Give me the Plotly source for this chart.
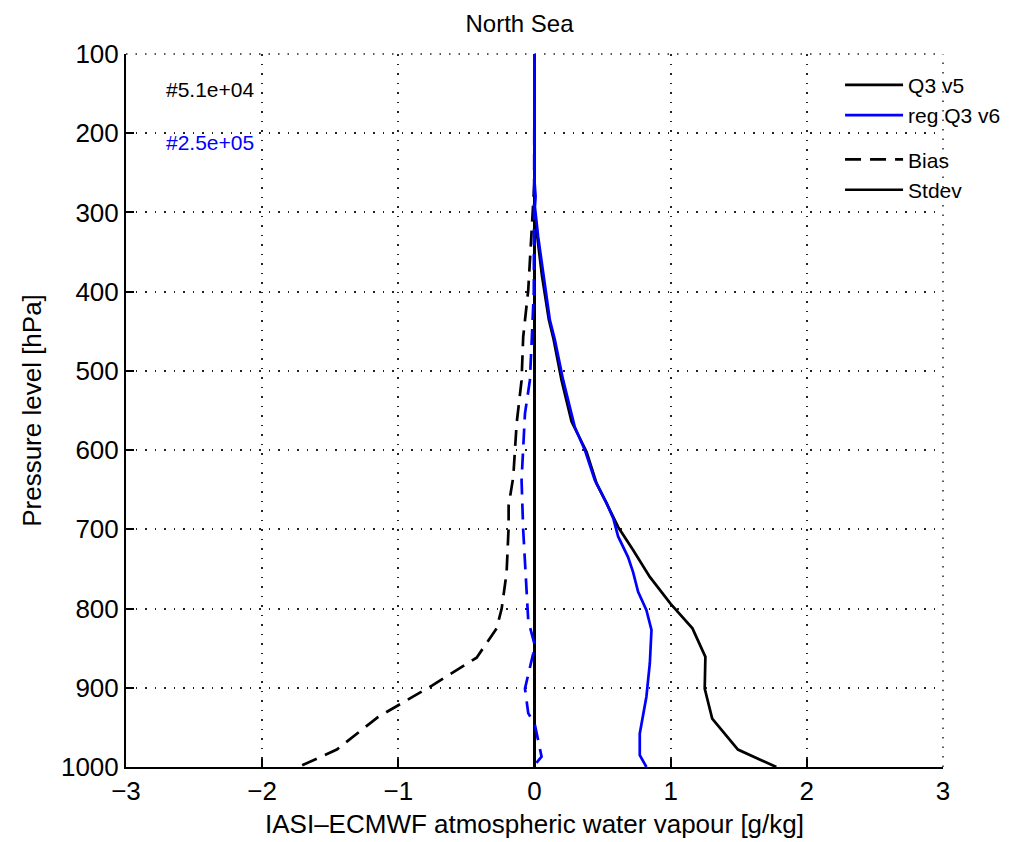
import plotly.graph_objects as go

# ---- data ----
p_std_v5 = [100, 150, 200, 250, 270, 290, 300, 330, 380, 435, 460, 512, 564, 602, 642, 667, 697, 726, 760, 794, 825, 861, 901, 939, 978, 1000]
x_std_v5 = [0.0, 0.0, 0.0, 0.0, 0.0, 0.005, 0.0, 0.02, 0.055, 0.105, 0.14, 0.199, 0.272, 0.382, 0.456, 0.529, 0.614, 0.724, 0.847, 1.0, 1.16, 1.255, 1.25, 1.305, 1.494, 1.776]

p_std_v6 = [100, 150, 200, 230, 260, 280, 293, 331, 377, 436, 461, 512, 571, 600, 638, 667, 686, 709, 735, 754, 779, 802, 827, 869, 911, 958, 985, 1000]
x_std_v6 = [0.0, 0.0, 0.0, 0.002, 0.0, 0.008, 0.003, 0.027, 0.064, 0.113, 0.15, 0.211, 0.296, 0.37, 0.443, 0.529, 0.578, 0.614, 0.687, 0.724, 0.761, 0.822, 0.859, 0.847, 0.822, 0.773, 0.773, 0.822]

p_bias_v5 = [260, 276, 335, 398, 457, 512, 566, 634, 670, 697, 755, 800, 825, 862, 897, 937, 978, 1000]
x_bias_v5 = [0.0, -0.005, -0.021, -0.046, -0.083, -0.095, -0.131, -0.156, -0.19, -0.19, -0.205, -0.241, -0.278, -0.425, -0.75, -1.15, -1.452, -1.734]

p_bias_v6 = [100, 300, 400, 460, 512, 554, 638, 701, 781, 815, 845, 857, 901, 932, 947, 987, 1000]
x_bias_v6 = [0.0, 0.0, -0.005, -0.02, -0.034, -0.07, -0.095, -0.083, -0.058, -0.046, 0.0, -0.01, -0.07, -0.046, 0.003, 0.052, -0.01]

y_ticks = [100, 200, 300, 400, 500, 600, 700, 800, 900, 1000]
x_ticks = [-3, -2, -1, 0, 1, 2, 3]

count_v5 = "#5.1e+04"
count_v6 = "#2.5e+05"

BLUE = "#0000ff"
FONT = "Liberation Sans, Arial, Helvetica, sans-serif"
LW = 2.7
DASH = "16px,9px"
GRID_DASH = "1.5px,8px"
GRID_COLOR = "#222222"

fig = go.Figure()

fig.add_trace(go.Scatter(x=x_bias_v5, y=p_bias_v5, mode="lines",
                         line=dict(color="black", width=LW, dash=DASH), showlegend=False))
fig.add_trace(go.Scatter(x=x_std_v5, y=p_std_v5, mode="lines",
                         line=dict(color="black", width=LW), showlegend=False))
fig.add_trace(go.Scatter(x=x_bias_v6, y=p_bias_v6, mode="lines",
                         line=dict(color=BLUE, width=LW, dash=DASH), showlegend=False))
fig.add_trace(go.Scatter(x=x_std_v6, y=p_std_v6, mode="lines",
                         line=dict(color=BLUE, width=LW), showlegend=False))

# legend entries
fig.add_trace(go.Scatter(x=[None], y=[None], mode="lines", name="Q3 v5",
                         line=dict(color="black", width=LW), legendgroup="a"))
fig.add_trace(go.Scatter(x=[None], y=[None], mode="lines", name="reg Q3 v6",
                         line=dict(color=BLUE, width=LW), legendgroup="a"))
fig.add_trace(go.Scatter(x=[None], y=[None], mode="lines", name="Bias",
                         line=dict(color="black", width=LW, dash=DASH), legendgroup="b"))
fig.add_trace(go.Scatter(x=[None], y=[None], mode="lines", name="Stdev",
                         line=dict(color="black", width=LW), legendgroup="b"))

fig.add_annotation(x=-2.72, y=145, text=count_v5, showarrow=False, xanchor="left",
                   yanchor="middle", font=dict(size=21, color="black", family=FONT))
fig.add_annotation(x=-2.72, y=212, text=count_v6, showarrow=False, xanchor="left",
                   yanchor="middle", font=dict(size=21, color=BLUE, family=FONT))

# dotted grid lines on the top and right edges of the plot box
fig.add_shape(type="line", xref="paper", yref="paper", x0=0, x1=1, y0=1, y1=1,
              line=dict(color=GRID_COLOR, width=1.5, dash=GRID_DASH), layer="below")
fig.add_shape(type="line", xref="paper", yref="paper", x0=1, x1=1, y0=0, y1=1,
              line=dict(color=GRID_COLOR, width=1.5, dash=GRID_DASH), layer="below")

grid = dict(showgrid=True, gridcolor=GRID_COLOR, gridwidth=1.5, griddash=GRID_DASH)

fig.update_xaxes(range=[-3, 3], tickvals=x_ticks, ticks="inside", ticklen=8, tickwidth=2,
                 tickcolor="black", showline=True, linecolor="black", linewidth=2,
                 zeroline=True, zerolinecolor="black", zerolinewidth=2.5,
                 tickfont=dict(size=26, color="black", family=FONT),
                 title=dict(text="IASI\u2013ECMWF atmospheric water vapour [g/kg]",
                            font=dict(size=26, color="black", family=FONT), standoff=10),
                 **grid)
fig.update_yaxes(range=[1000, 100], tickvals=y_ticks, ticks="inside", ticklen=8, tickwidth=2,
                 tickcolor="black", showline=True, linecolor="black", linewidth=2,
                 zeroline=False,
                 tickfont=dict(size=26, color="black", family=FONT),
                 title=dict(text="Pressure level [hPa]",
                            font=dict(size=26, color="black", family=FONT), standoff=12),
                 **grid)

fig.update_layout(
    width=1023, height=842,
    margin=dict(l=118, r=88, t=46, b=83, autoexpand=False),
    paper_bgcolor="white", plot_bgcolor="white",
    title=dict(text="North Sea", x=0.5, xanchor="center", y=0.991, yanchor="top",
               yref="container", pad=dict(t=0, b=0),
               font=dict(size=24, color="black", family=FONT)),
    legend=dict(x=0.874, y=0.985, xanchor="left", yanchor="top",
                bgcolor="rgba(0,0,0,0)", borderwidth=0, traceorder="grouped",
                tracegroupgap=14, itemwidth=58,
                font=dict(size=21, color="black", family=FONT)),
    showlegend=True,
)

fig.write_html("out.html")
